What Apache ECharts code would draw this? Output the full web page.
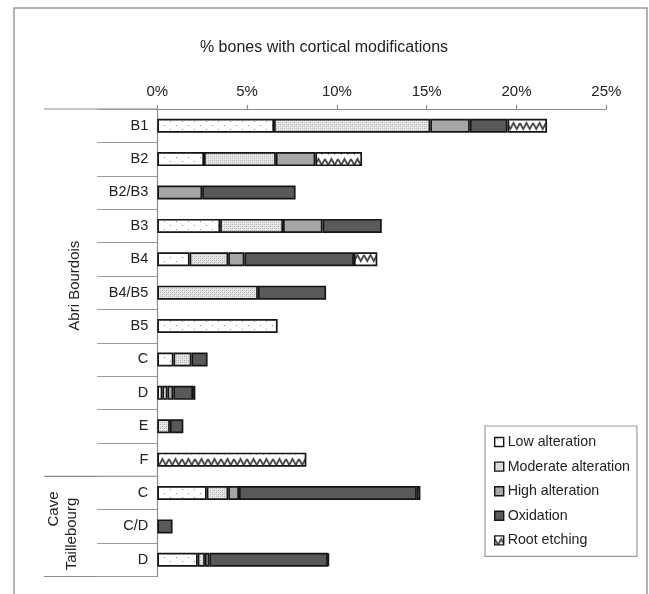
<!DOCTYPE html>
<html>
<head>
<meta charset="utf-8">
<script src="https://cdn.jsdelivr.net/npm/echarts@6/dist/echarts.min.js"></script>
<style>
html,body{margin:0;padding:0;background:#fff;}
#chart{width:649px;height:594px;}
</style>
</head>
<body>
<div id="chart"></div>
<script>
// ---- data ----
var categories = ['B1','B2','B2/B3','B3','B4','B4/B5','B5','C','D','E','F','C','C/D','D'];
var groupNames = ['Abri Bourdois', 'Cave Taillebourg'];
var groupSizes = [11, 3];
var seriesNames = ['Low alteration','Moderate alteration','High alteration','Oxidation','Root etching'];
var lowAlteration      = [6.5, 2.6, null, 3.5, 1.8, null, 6.7, 0.9, 0.28, null, null, 2.75, null, 2.25];
var moderateAlteration = [8.7, 4.0, null, 3.5, 2.15, 5.6, null, 1.0, 0.28, 0.7, null, 1.2, null, 0.4];
var highAlteration     = [2.2, 2.2, 2.5, 2.2, 0.9, null, null, null, 0.33, null, null, 0.6, null, 0.25];
var oxidation          = [2.1, null, 5.2, 3.3, 6.1, 3.8, null, 0.9, 1.1, 0.75, null, 9.9, 0.85, 6.6];
var rootEtching        = [2.2, 2.6, null, null, 1.3, null, null, null, 0.13, null, 8.3, 0.2, null, 0.05];
var xTicks = {min: 0, max: 25, interval: 5};

// ---- patterns ----
function makePattern(w, h, draw) {
  var c = document.createElement('canvas');
  c.width = w; c.height = h;
  var ctx = c.getContext('2d');
  ctx.fillStyle = '#fff';
  ctx.fillRect(0, 0, w, h);
  draw(ctx);
  return {image: c, repeat: 'repeat'};
}
var lowPattern = makePattern(12, 8, function (ctx) {
  ctx.fillStyle = '#8a8a8a';
  ctx.fillRect(2, 1, 1, 1);
  ctx.fillRect(8, 5, 1, 1);
});
var modPattern = makePattern(4, 4, function (ctx) {
  ctx.fillStyle = '#e4e4e4';
  ctx.fillRect(0, 0, 4, 4);
  ctx.fillStyle = '#b0b0b0';
  ctx.fillRect(0, 0, 1, 1);
  ctx.fillRect(2, 2, 1, 1);
  ctx.fillStyle = '#c8c8c8';
  ctx.fillRect(2, 0, 1, 1);
  ctx.fillRect(0, 2, 1, 1);
  ctx.fillStyle = '#f4f4f4';
  ctx.fillRect(1, 1, 1, 1);
  ctx.fillRect(3, 3, 1, 1);
});
var rootPattern = makePattern(13, 12, function (ctx) {
  ctx.strokeStyle = '#4a4a4a';
  ctx.lineWidth = 1.8;
  ctx.beginPath();
  ctx.moveTo(0, 3);
  ctx.lineTo(3.25, 9);
  ctx.lineTo(6.5, 3);
  ctx.lineTo(9.75, 9);
  ctx.lineTo(13, 3);
  ctx.stroke();
});
var fills = [lowPattern, modPattern, '#a6a6a6', '#595959', rootPattern];
var values = [lowAlteration, moderateAlteration, highAlteration, oxidation, rootEtching];

var chart = echarts.init(document.getElementById('chart'), null, {renderer: 'canvas'});
var gridTop = 109, gridBottom = 17.5, gridLeft = 157.3, gridRight = 42.7;
var FONT = 'Liberation Sans, Arial, sans-serif';

var series = seriesNames.map(function (name, i) {
  return {
    name: name,
    type: 'bar',
    stack: 'all',
    barWidth: 14,
    data: values[i],
    itemStyle: {color: fills[i], borderColor: '#151515', borderWidth: 1.7},
    emphasis: {disabled: true},
    animation: false
  };
});

chart.setOption({
  animation: false,
  textStyle: {fontFamily: FONT},
  title: {
    text: '% bones with cortical modifications',
    left: 319, top: 35, textAlign: 'center',
    textStyle: {fontSize: 16, fontWeight: 'normal', color: '#222', fontFamily: FONT}
  },
  grid: {left: gridLeft, right: gridRight, top: gridTop, bottom: gridBottom, containLabel: false},
  xAxis: {
    type: 'value', position: 'top',
    min: xTicks.min, max: xTicks.max, interval: xTicks.interval,
    axisLine: {show: true, lineStyle: {color: '#8c8c8c', width: 1.2}},
    axisTick: {show: true, length: 4, inside: false, lineStyle: {color: '#8c8c8c', width: 1.2}},
    splitLine: {show: false},
    axisLabel: {formatter: '{value}%', fontSize: 15, color: '#222', margin: 10, fontFamily: FONT}
  },
  yAxis: {
    type: 'category', inverse: true, data: categories,
    axisLine: {show: true, lineStyle: {color: '#8c8c8c', width: 1.2}},
    axisTick: {show: true, length: 60, interval: 0, alignWithLabel: false, lineStyle: {color: '#9a9a9a', width: 1.2}},
    axisLabel: {fontSize: 14.5, color: '#222', margin: 9, interval: 0, fontFamily: FONT}
  },
  legend: {
    orient: 'vertical', left: 485, top: 426,
    padding: [9, 7, 9, 9],
    itemGap: 10.6, itemWidth: 9, itemHeight: 9,
    icon: 'rect',
    borderColor: '#9a9a9a', borderWidth: 1.2,
    itemStyle: {borderColor: '#151515', borderWidth: 1.4},
    textStyle: {fontSize: 14.2, color: '#222', padding: [0, 0, 0, -1], fontFamily: FONT},
    selectedMode: false,
    data: seriesNames
  },
  series: series
});

// ---- group separators and labels ----
function drawGroups() {
  var els = [];
  els.push({type: 'rect', shape: {x: 14, y: 8, width: 633, height: 620}, style: {fill: 'none', stroke: '#9a9a9a', lineWidth: 1.5}, silent: true});
  var plotBottom = 594 - gridBottom;
  var rowH = (plotBottom - gridTop) / categories.length;
  var start = 0;
  var bounds = [gridTop];
  groupSizes.forEach(function (n) { start += n; bounds.push(gridTop + start * rowH); });
  bounds.forEach(function (y) {
    els.push({type: 'line', shape: {x1: 44, y1: y, x2: gridLeft, y2: y}, style: {stroke: '#8c8c8c', lineWidth: 1.2}, silent: true});
  });
  var c1 = (bounds[0] + bounds[1]) / 2 - 7;
  els.push({type: 'text', x: 75, y: c1, rotation: Math.PI / 2,
    style: {text: groupNames[0], fontSize: 15, fill: '#222', align: 'center', verticalAlign: 'middle', fontFamily: FONT}, silent: true});
  var parts = groupNames[1].split(' ');
  els.push({type: 'text', x: 54, y: 509, rotation: Math.PI / 2,
    style: {text: parts[0], fontSize: 15, fill: '#222', align: 'center', verticalAlign: 'middle', fontFamily: FONT}, silent: true});
  els.push({type: 'text', x: 72, y: 534, rotation: Math.PI / 2,
    style: {text: parts[1], fontSize: 15, fill: '#222', align: 'center', verticalAlign: 'middle', fontFamily: FONT}, silent: true});
  chart.setOption({graphic: {elements: els}});
}
drawGroups();
</script>
</body>
</html>
